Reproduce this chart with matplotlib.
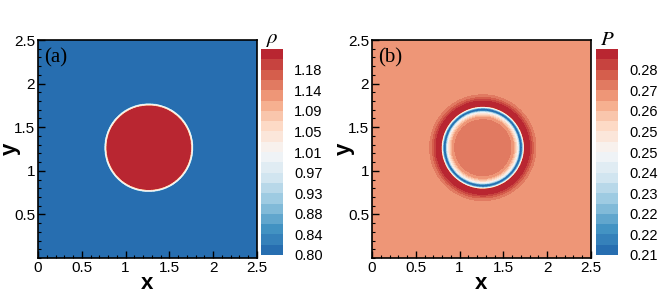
import numpy as np
import matplotlib
matplotlib.use("Agg")
import matplotlib.pyplot as plt
from matplotlib.colors import LinearSegmentedColormap
from matplotlib.ticker import MultipleLocator, FixedLocator

plt.rcParams["font.family"] = ["Liberation Sans", "DejaVu Sans"]
plt.rcParams["mathtext.fontset"] = "stix"

# colour map (tecplot-like diverging, blue -> white -> red)
cmap_colors = ["#2166ac", "#4393c3", "#92c5de", "#d1e5f0", "#f7f7f7",
               "#fddbc7", "#f4a582", "#d6604d", "#b2182b"]
cmap = LinearSegmentedColormap.from_list("tec_rdbu", cmap_colors)

# bubble geometry
xc, yc = 1.265, 1.265

# radial density profile
rho_r = [0.0, 0.474, 0.482, 0.496, 0.506, 3.0]
rho_v = [1.21, 1.21, 1.06, 0.99, 0.805, 0.805]

# radial pressure profile
p_r = [0.0, 0.30, 0.35, 0.39, 0.41, 0.422, 0.448, 0.46, 0.47, 0.48, 0.515, 0.54, 0.57, 0.62, 3.0]
p_v = [0.2725, 0.2725, 0.267, 0.252, 0.232, 0.211, 0.211, 0.230, 0.250, 0.285, 0.285, 0.281, 0.275, 0.2685, 0.2685]

# contour levels and colorbar labels
rho_levels = 0.8 + 0.4 / 19 * np.arange(21)
rho_ticklabels = ["0.80", "0.84", "0.88", "0.93", "0.97", "1.01", "1.05", "1.09", "1.14", "1.18"]
p_levels = 0.2078 + 0.0039 * np.arange(21)
p_ticklabels = ["0.21", "0.22", "0.22", "0.23", "0.24", "0.25", "0.25", "0.26", "0.27", "0.28"]

x = np.linspace(0, 2.5, 500)
X, Y = np.meshgrid(x, x)
R = np.hypot(X - xc, Y - yc)
rho = np.interp(R, rho_r, rho_v)
pres = np.interp(R, p_r, p_v)

fig = plt.figure(figsize=(6.64, 2.95), dpi=100)

panels = [
    (rho, rho_levels, rho_ticklabels, r"$\rho$", "(a)", 38, 261),
    (pres, p_levels, p_ticklabels, r"$P$", "(b)", 372, 596),
]

for field, levels, labels, cbtitle, tag, ax_left, cb_left in panels:
    ax = fig.add_axes([ax_left / 664, 37 / 295, 219 / 664, 218 / 295])
    cf = ax.contourf(X, Y, field, levels=levels, cmap=cmap)
    ax.set_xlim(0, 2.5)
    ax.set_ylim(0, 2.5)
    ax.xaxis.set_major_locator(FixedLocator([0, 0.5, 1, 1.5, 2, 2.5]))
    ax.yaxis.set_major_locator(FixedLocator([0.5, 1, 1.5, 2, 2.5]))
    ax.set_xticklabels(["0", "0.5", "1", "1.5", "2", "2.5"])
    ax.set_yticklabels(["0.5", "1", "1.5", "2", "2.5"])
    ax.xaxis.set_minor_locator(MultipleLocator(0.1))
    ax.yaxis.set_minor_locator(MultipleLocator(0.1))
    ax.tick_params(which="both", direction="in", top=False, right=False,
                   labelsize=11, colors="black", pad=2)
    ax.tick_params(which="major", length=5, width=1)
    ax.tick_params(which="minor", length=2.5, width=0.8)
    for s in ax.spines.values():
        s.set_linewidth(1.2)
    ax.set_xlabel("x", fontsize=16, fontweight="bold")
    ax.set_ylabel("y", fontsize=16, fontweight="bold")
    ax.xaxis.set_label_coords(0.5, -0.07)
    ax.yaxis.set_label_coords(-0.08, 0.5)
    ax.text(0.03, 0.96, tag, transform=ax.transAxes, ha="left", va="top",
            fontsize=15, family="Liberation Serif")

    cax = fig.add_axes([cb_left / 664, 40 / 295, 22 / 664, 206 / 295])
    cb = fig.colorbar(cf, cax=cax)
    cb.outline.set_visible(False)
    cb.set_ticks(levels[0:20:2])
    cb.set_ticklabels(labels)
    cax.tick_params(length=0, labelsize=10.5, pad=8)
    cax.set_title(cbtitle, fontsize=15, pad=2)

fig.savefig("out.png", dpi=100)
